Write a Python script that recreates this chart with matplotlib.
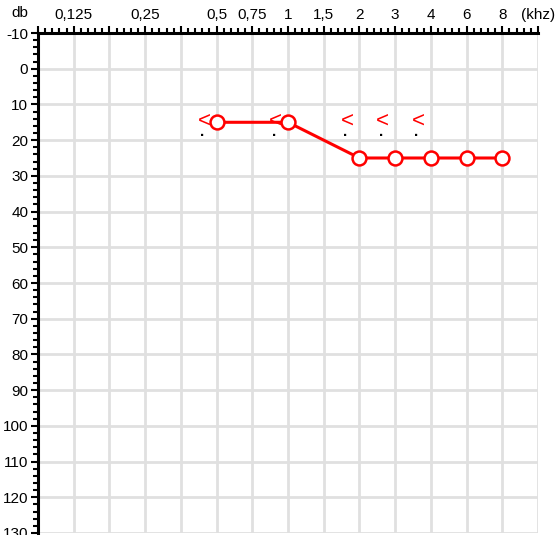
import matplotlib
matplotlib.use('Agg')
import matplotlib.pyplot as plt
from matplotlib.ticker import MultipleLocator

plt.rcParams['font.family'] = ['Liberation Sans', 'DejaVu Sans']

# Frequency axis (categorical positions) and data
freq_labels = ['', '0,125', '', '0,25', '', '0,5', '0,75', '1', '1,5', '2', '3', '4', '6', '8', '(khz)']
db_ticks = list(range(-10, 131, 10))

air_freqs = ['0,5', '1', '2', '3', '4', '6', '8']
air_db = [15, 15, 25, 25, 25, 25, 25]

bone_freqs = ['0,5', '1', '2', '3', '4']
bone_db = [15, 15, 15, 15, 15]

red = '#ff0000'
grid_col = '#e0e0e0'

fig = plt.figure(figsize=(5.58, 5.35), dpi=100)
ax = fig.add_axes([38 / 558, 2 / 535, 500 / 558, 500 / 535])

ax.set_xlim(0, len(freq_labels) - 1)
ax.set_ylim(130, -10)

# grid
ax.set_xticks(range(len(freq_labels)))
ax.set_xticklabels(freq_labels, fontsize=11)
ax.set_yticks(db_ticks)
ax.set_yticklabels([str(v) for v in db_ticks], fontsize=11)
ax.xaxis.set_minor_locator(MultipleLocator(0.2))
ax.yaxis.set_minor_locator(MultipleLocator(2))
ax.grid(True, which='major', color=grid_col, linewidth=2)
ax.set_axisbelow(True)

ax.xaxis.tick_top()
ax.tick_params(axis='both', which='major', direction='out', length=5, width=1.5, colors='black', pad=2)
ax.tick_params(axis='both', which='minor', direction='out', length=3.5, width=1.5, colors='black')
ax.tick_params(axis='x', which='major', pad=3)

for side in ['right', 'bottom']:
    ax.spines[side].set_visible(False)
for side in ['left', 'top']:
    ax.spines[side].set_linewidth(2.2)

# bone conduction symbols
for f, d in zip(bone_freqs, bone_db):
    x = freq_labels.index(f)
    ax.text(x - 0.35, d - 0.3, '<', color=red, fontsize=16, ha='center', va='center', zorder=3)
    ax.text(x - 0.4, d + 2.6, '.', color='black', fontsize=11, fontweight='bold',
            ha='center', va='center', zorder=3)

# air conduction
ax_x = [freq_labels.index(f) for f in air_freqs]
ax.plot(ax_x, air_db, color=red, linewidth=2.2, marker='o', markersize=10,
        markerfacecolor='white', markeredgecolor=red, markeredgewidth=1.8, zorder=4,
        clip_on=False)

ax.annotate('db', xy=(0, 1), xycoords='axes fraction', xytext=(-18, 20),
            textcoords='offset pixels', ha='center', va='center', fontsize=11)

fig.savefig('out.png', dpi=100)
